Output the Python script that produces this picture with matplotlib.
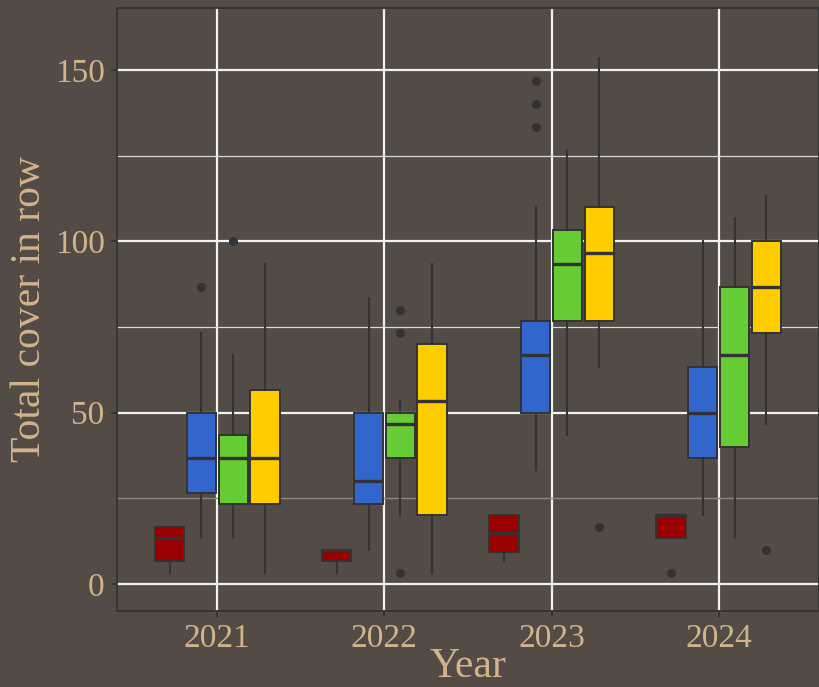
import matplotlib
matplotlib.use("Agg")
import matplotlib.pyplot as plt
from matplotlib.ticker import FixedLocator

plt.rcParams["font.family"] = ["Liberation Serif", "DejaVu Serif"]

# Years on the x axis and the four treatment groups drawn within each year
years = ["2021", "2022", "2023", "2024"]
group_colors = ["#990000", "#3366CC", "#66CC33", "#FFCC00"]

# Five-number summaries per group (rows) and year (columns)
whisker_low = [
    [3.33, 3.33, 6.67, 13.33],
    [13.33, 10.0, 33.33, 20.0],
    [13.33, 20.0, 43.33, 13.33],
    [3.33, 3.33, 63.33, 46.67],
]
q1 = [
    [6.67, 6.67, 9.2, 13.33],
    [26.67, 23.33, 50.0, 36.67],
    [23.33, 36.67, 76.67, 40.0],
    [23.33, 20.0, 76.67, 73.33],
]
median = [
    [13.33, 10.0, 15.0, 20.0],
    [36.67, 30.0, 66.67, 50.0],
    [36.67, 46.67, 93.33, 66.67],
    [36.67, 53.33, 96.67, 86.67],
]
q3 = [
    [16.67, 10.0, 20.0, 20.0],
    [50.0, 50.0, 76.67, 63.33],
    [43.33, 50.0, 103.33, 86.67],
    [56.67, 70.0, 110.0, 100.0],
]
whisker_high = [
    [16.67, 10.0, 20.0, 20.0],
    [73.33, 83.33, 110.0, 100.0],
    [66.67, 53.33, 126.67, 106.67],
    [93.33, 93.33, 153.33, 113.33],
]
outliers = [
    [[], [], [], [3.33]],
    [[86.67], [], [133.33, 140.0, 146.67], []],
    [[100.0], [3.33, 73.33, 80.0], [], []],
    [[], [], [16.67], [10.0]],
]

bg = "#524B46"
edge = "#333333"
text_col = "#D2B48C"

fig = plt.figure(figsize=(8.19, 6.87), dpi=100, facecolor=bg)
ax = fig.add_axes([0.1429, 0.1106, 0.857, 0.878], facecolor=bg)

offsets = [-0.285, -0.095, 0.095, 0.285]
box_w = 0.175

for g, color in enumerate(group_colors):
    stats = []
    for y in range(len(years)):
        stats.append({
            "whislo": whisker_low[g][y],
            "q1": q1[g][y],
            "med": median[g][y],
            "q3": q3[g][y],
            "whishi": whisker_high[g][y],
            "fliers": outliers[g][y],
        })
    pos = [i + 1 + offsets[g] for i in range(len(years))]
    ax.bxp(
        stats, positions=pos, widths=box_w, patch_artist=True,
        showcaps=False, manage_ticks=False,
        boxprops=dict(facecolor=color, edgecolor=edge, linewidth=1.4),
        medianprops=dict(color=edge, linewidth=2.4),
        whiskerprops=dict(color=edge, linewidth=1.5),
        flierprops=dict(marker="o", markerfacecolor=edge, markeredgecolor=edge,
                        markersize=5.5),
        zorder=3,
    )

ax.set_xlim(0.4, 4.6)
ax.set_ylim(-7.9, 168.1)

ax.xaxis.set_major_locator(FixedLocator([1, 2, 3, 4]))
ax.set_xticklabels(years)
ax.yaxis.set_major_locator(FixedLocator([0, 50, 100, 150]))
ax.yaxis.set_minor_locator(FixedLocator([75, 125]))

ax.grid(True, which="major", axis="both", color="#F2F2F2", linewidth=1.6, zorder=0)
ax.grid(True, which="minor", axis="y", color="#D9D9D9", linewidth=0.9, zorder=0)
ax.axhline(25, color="#8C8681", linewidth=1.0, zorder=1)
ax.set_axisbelow(True)

ax.tick_params(axis="both", which="major", color=edge, length=4, width=1.3,
               labelcolor=text_col, labelsize=24, pad=5)
ax.tick_params(axis="y", which="minor", length=0)

for s in ax.spines.values():
    s.set_color(edge)
    s.set_linewidth(1.3)

ax.set_xlabel("Year", color=text_col, fontsize=30, labelpad=-5)
ax.set_ylabel("Total cover in row", color=text_col, fontsize=30, labelpad=4)

fig.savefig("out.png", dpi=100, facecolor=bg)
